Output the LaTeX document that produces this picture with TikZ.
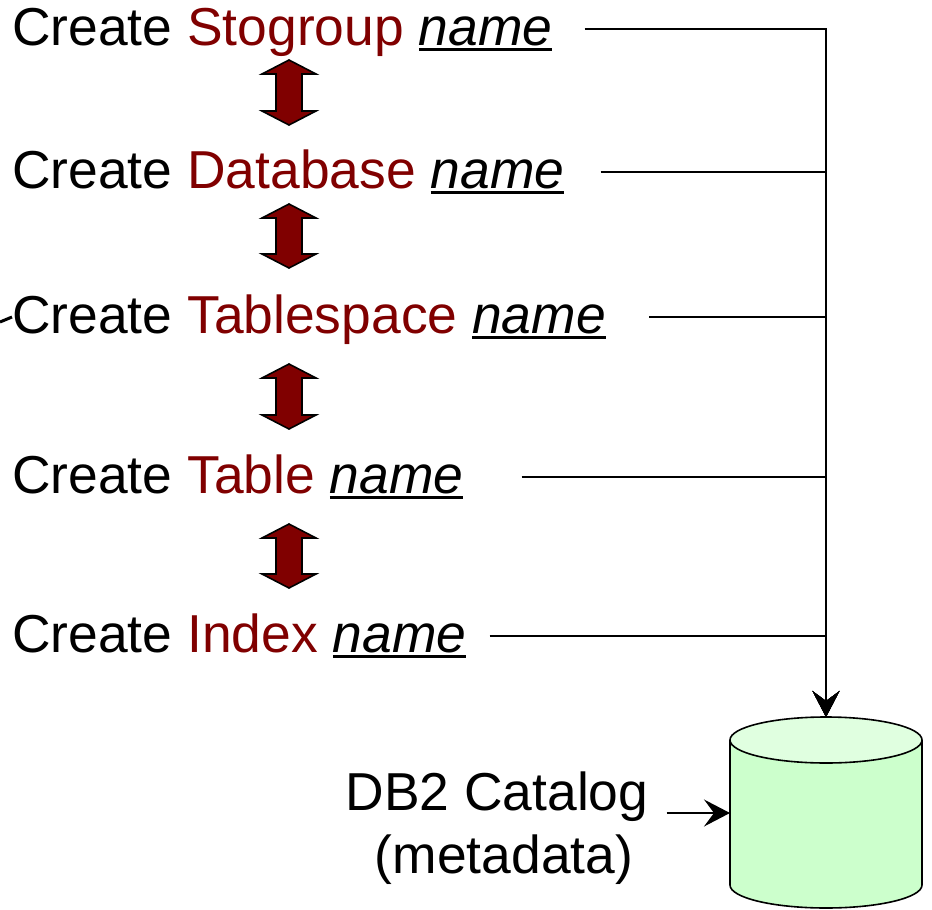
\documentclass[tikz,border=0pt]{standalone}
\usepackage{fontspec}
\setmainfont{Liberation Sans}
\usepackage{tikz}
\usetikzlibrary{calc, positioning, arrows.meta}
\definecolor{darkred}{HTML}{800000}
\definecolor{catgreen}{HTML}{CCFFCC}
\definecolor{cattop}{HTML}{E0FFE0}
\newcommand{\uname}{\setbox0\hbox{\itshape name}\rlap{\rule[-6pt]{\wd0}{2.6pt}}\box0}
\tikzset{
  stmt/.style={anchor=base west, inner sep=0pt, font=\fontsize{53.4}{60}\selectfont},
  feed/.style={draw=black, line width=1.4pt, -{Stealth[length=26pt, width=27pt, inset=10pt]}},
  dbl/.style={fill=darkred, draw=black, line width=1.6pt, line join=miter}
}
\begin{document}
\begin{tikzpicture}[x=1pt, y=-1pt]
          \useasboundingbox (0,0) rectangle (932,910);
          % Statements
          \node[stmt] (sg) at (12,45) {Create \textcolor{darkred}{Stogroup} \uname};
          \node[stmt] (db) at (12,188) {Create \textcolor{darkred}{Database} \uname};
          \node[stmt] (ts) at (12,333) {Create \textcolor{darkred}{Tablespace} \uname};
          \node[stmt] (tb) at (12,493) {Create \textcolor{darkred}{Table} \uname};
          \node[stmt] (ix) at (12,652) {Create \textcolor{darkred}{Index} \uname};
          % Double arrows between statements
          \foreach \yt/\yb in {60/125, 204/268, 364/429, 524/588}
            \draw[dbl] (289,\yt) -- (316,\yt+14) -- (302,\yt+14) -- (302,\yb-14) -- (316,\yb-14)
              -- (289,\yb) -- (262,\yb-14) -- (276,\yb-14) -- (276,\yt+14) -- (262,\yt+14) -- cycle;
          % Catalog
          \fill[catgreen] (730,740) -- (730,885) arc[start angle=180, end angle=0, x radius=96, y radius=23]
            -- (922,740) -- cycle;
          \draw[line width=1.6pt] (730,740) -- (730,885) arc[start angle=180, end angle=0, x radius=96, y radius=23]
            -- (922,740);
          \draw[line width=1.6pt, fill=cattop] (826,740) ellipse[x radius=96, y radius=23];
          \coordinate (cat) at (826,717);
          \coordinate (catw) at (730,813);
          \node[font=\fontsize{53.4}{63}\selectfont, align=center, inner sep=0pt] (lbl) at (497,828)
            {DB2 Catalog\\\hspace*{14pt}(metadata)};
          % Links to the catalog
          \draw[feed] ([shift={(32pt,16pt)}]sg.base east) -| (cat);
          \draw[feed] ([shift={(36pt,16pt)}]db.base east) -| (cat);
          \draw[feed] ([shift={(43pt,16pt)}]ts.base east) -| (cat);
          \draw[feed] ([shift={(58pt,16pt)}]tb.base east) -| (cat);
          \draw[feed] ([shift={(23pt,16pt)}]ix.base east) -| (cat);
          \draw[feed] ([xshift=18pt]lbl.east |- catw) -- (catw);
          % Stub on the left
          \coordinate (stub) at (0,322);
          \draw[line width=3pt] (stub) -- ([shift={(0pt,16pt)}]ts.base west);
        \end{tikzpicture}
\end{document}
